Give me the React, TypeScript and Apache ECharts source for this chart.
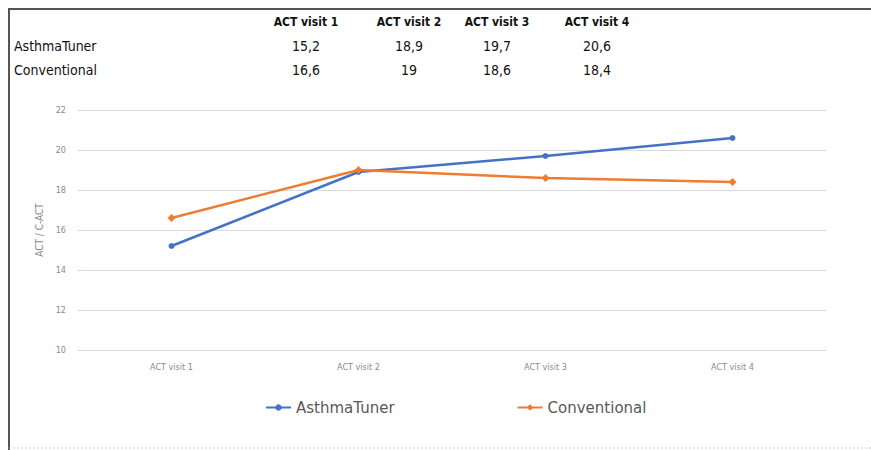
import React, { useEffect, useRef } from "react";
import * as echarts from "echarts";

const categories = ["ACT visit 1", "ACT visit 2", "ACT visit 3", "ACT visit 4"];
const asthmaTuner = [15.2, 18.9, 19.7, 20.6];
const conventional = [16.6, 19, 18.6, 18.4];
const asthmaTunerLabels = ["15,2", "18,9", "19,7", "20,6"];
const conventionalLabels = ["16,6", "19", "18,6", "18,4"];
const tableColumnsX = [306, 409, 497, 597];

const FONT = "'Liberation Sans Narrow', 'DejaVu Sans Condensed', Roboto, sans-serif";

export default function App() {
  const ref = useRef<HTMLDivElement>(null);
  useEffect(() => {
    if (!ref.current) return;
    const chart = echarts.init(ref.current, null, { renderer: "svg" });
    const graphics: any[] = [];
    // border
    graphics.push({ type: "line", shape: { x1: 8, y1: 9, x2: 871, y2: 9 }, style: { stroke: "#555", lineWidth: 2 } });
    graphics.push({ type: "line", shape: { x1: 9, y1: 8, x2: 9, y2: 450 }, style: { stroke: "#555", lineWidth: 2 } });
    graphics.push({ type: "line", shape: { x1: 9, y1: 448, x2: 871, y2: 448 }, style: { stroke: "#ccc", lineWidth: 1, lineDash: [2, 2] } });
    categories.forEach((c, i) => {
      graphics.push({ type: "text", x: tableColumnsX[i], y: 22, style: { text: c, font: `bold 12px ${FONT}`, fill: "#111", align: "center", verticalAlign: "middle" } });
      graphics.push({ type: "text", x: tableColumnsX[i], y: 46, style: { text: asthmaTunerLabels[i], font: `14px ${FONT}`, fill: "#111", align: "center", verticalAlign: "middle" } });
      graphics.push({ type: "text", x: tableColumnsX[i], y: 70, style: { text: conventionalLabels[i], font: `14px ${FONT}`, fill: "#111", align: "center", verticalAlign: "middle" } });
    });
    graphics.push({ type: "text", x: 14, y: 46, style: { text: "AsthmaTuner", font: `14px ${FONT}`, fill: "#111", align: "left", verticalAlign: "middle" } });
    graphics.push({ type: "text", x: 14, y: 70, style: { text: "Conventional", font: `14px ${FONT}`, fill: "#111", align: "left", verticalAlign: "middle" } });

    chart.setOption({
      animation: false,
      backgroundColor: "#fff",
      graphic: graphics,
      grid: { left: 78, right: 45, top: 110, bottom: 100 },
      legend: {
        left: 260,
        top: 395,
        itemWidth: 25,
        itemHeight: 8,
        itemGap: 122,
        textStyle: { color: "#595959", fontSize: 15, fontFamily: "'DejaVu Sans', sans-serif" },
        data: ["AsthmaTuner", "Conventional"],
      },
      xAxis: {
        type: "category",
        data: categories,
        boundaryGap: true,
        axisLine: { lineStyle: { color: "#d9d9d9" } },
        axisTick: { show: false },
        axisLabel: { color: "#8a8a8a", fontSize: 9, fontFamily: FONT, margin: 12 },
      },
      yAxis: {
        type: "value",
        min: 10,
        max: 22,
        interval: 2,
        name: "ACT / C-ACT",
        nameLocation: "middle",
        nameGap: 29,
        nameTextStyle: { color: "#8a8a8a", fontSize: 10, fontFamily: FONT },
        axisLine: { show: false },
        axisTick: { show: false },
        axisLabel: { color: "#8a8a8a", fontSize: 9, fontFamily: FONT, margin: 12 },
        splitLine: { lineStyle: { color: "#d9d9d9" } },
      },
      series: [
        {
          name: "AsthmaTuner",
          type: "line",
          data: asthmaTuner,
          color: "#4472C4",
          symbol: "circle",
          symbolSize: 6,
          lineStyle: { width: 2.5, color: "#4472C4" },
          itemStyle: { color: "#4472C4" },
        },
        {
          name: "Conventional",
          type: "line",
          data: conventional,
          color: "#ED7D31",
          symbol: "diamond",
          symbolSize: 8,
          lineStyle: { width: 2.5, color: "#ED7D31" },
          itemStyle: { color: "#ED7D31" },
        },
      ],
    });
    return () => chart.dispose();
  }, []);
  return <div ref={ref} style={{ position: "fixed", left: 0, top: 0, width: 871, height: 450 }} />;
}
